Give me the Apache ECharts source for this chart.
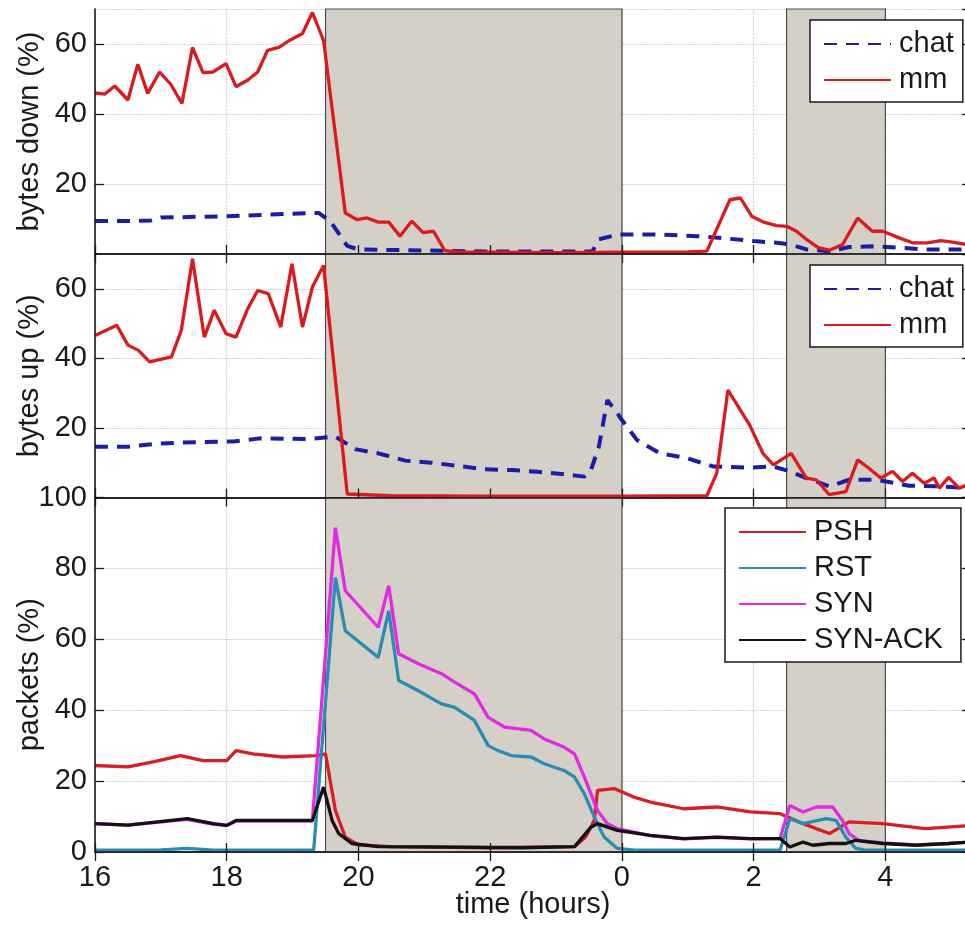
<!DOCTYPE html>
<html>
<head>
<meta charset="utf-8">
<script src="https://cdn.jsdelivr.net/npm/echarts@6/dist/echarts.min.js"></script>
<style>
  html, body { margin: 0; padding: 0; background: #ffffff; }
  #chart { width: 965px; height: 928px; }
</style>
</head>
<body>
<div id="chart"></div>
<script>
// Time is in hours from midnight of the first day; values above 24 fall on the next day.

// bytes down (%)
const chatDown = [
  [16.0, 9.4], [16.5, 9.4], [16.85, 9.6], [17.0, 10.4], [18.0, 10.8], [19.3, 11.7], [19.4, 11.7],
  [19.57, 9.4], [19.83, 2.3], [20.0, 1.3], [21.0, 1.0], [22.0, 0.7], [23.55, 0.7], [23.65, 4.2],
  [23.95, 5.6], [24.5, 5.6], [25.14, 5.1], [25.6, 4.4], [26.0, 3.7], [26.35, 3.2], [26.55, 2.8],
  [26.8, 1.3], [27.15, 0.8], [27.45, 2.0], [27.8, 2.2], [28.2, 1.8], [28.6, 1.3], [29.3, 1.3]
];
const mmDown = [
  [16.0, 46], [16.15, 45.7], [16.3, 48], [16.5, 44], [16.65, 54.2], [16.8, 45.9], [16.98, 52],
  [17.15, 48.5], [17.32, 43], [17.48, 59], [17.64, 51.8], [17.79, 52], [17.99, 54.4], [18.14, 47.8],
  [18.32, 49.7], [18.47, 52], [18.62, 58.2], [18.8, 59.1], [18.95, 61], [19.15, 63], [19.3, 69],
  [19.47, 61], [19.8, 11.7], [19.98, 9.8], [20.13, 10.3], [20.3, 9.1], [20.46, 9.1], [20.63, 5.1],
  [20.81, 9.4], [20.98, 6.1], [21.14, 6.5], [21.31, 1.0], [21.5, 0.5], [22.0, 0.5], [23.0, 0.4],
  [24.0, 0.5], [25.0, 0.6], [25.29, 0.8], [25.64, 15.5], [25.8, 16], [25.97, 10.8], [26.15, 9.1],
  [26.35, 8.1], [26.5, 7.9], [26.65, 6.5], [26.8, 4.2], [26.98, 1.8], [27.15, 1.1], [27.35, 2.7],
  [27.58, 10.3], [27.8, 6.5], [27.96, 6.5], [28.21, 4.6], [28.41, 3.2], [28.64, 3.2], [28.84, 3.8],
  [29.02, 3.4], [29.3, 2.5]
];

// bytes up (%)
const chatUp = [
  [16.0, 14.6], [16.5, 14.6], [16.9, 15.4], [17.3, 15.8], [18.1, 16.1], [18.5, 17], [19.25, 16.8],
  [19.65, 17.5], [19.95, 13.9], [20.3, 12.7], [20.71, 10.6], [21.11, 10], [21.51, 9.1], [21.92, 8.1],
  [22.32, 7.9], [22.72, 7.4], [23.12, 6.7], [23.43, 6], [23.53, 7.9], [23.65, 14.6], [23.78, 28],
  [23.93, 24.2], [23.98, 22.8], [24.23, 16.5], [24.58, 12.7], [24.99, 11.3], [25.39, 8.9],
  [25.94, 8.6], [26.3, 8.9], [26.55, 7.5], [26.8, 5.6], [27.15, 3.2], [27.45, 5.1], [27.86, 5.1],
  [28.36, 3.4], [28.77, 3.2], [29.3, 2.7]
];
const mmUp = [
  [16.0, 46.6], [16.33, 49.5], [16.5, 43.8], [16.66, 42.3], [16.83, 39], [17.16, 40.4], [17.31, 48],
  [17.48, 68.6], [17.66, 46.1], [17.81, 53.8], [17.99, 47.1], [18.14, 46.1], [18.32, 54.3],
  [18.47, 59.5], [18.63, 58.6], [18.82, 49], [18.99, 67.2], [19.15, 49], [19.3, 60.5], [19.47, 66.7],
  [19.83, 1.0], [20.5, 0.5], [22.0, 0.4], [24.0, 0.4], [25.29, 0.5], [25.44, 7], [25.61, 30.9],
  [25.94, 20.8], [26.14, 12.7], [26.3, 9.4], [26.57, 12.7], [26.8, 5.6], [26.95, 5.1], [27.15, 0.8],
  [27.4, 1.7], [27.58, 10.8], [27.75, 8.4], [27.93, 5.6], [28.11, 7.5], [28.26, 4.6], [28.41, 7],
  [28.59, 4.1], [28.74, 5.6], [28.82, 2.7], [28.96, 5.8], [29.12, 2.7], [29.3, 4]
];

// packets (%)
const psh = [
  [16.0, 24.4], [16.5, 24], [16.9, 25.5], [17.3, 27.2], [17.64, 25.8], [18.0, 25.8], [18.14, 28.6],
  [18.4, 27.7], [18.85, 26.8], [19.35, 27.2], [19.5, 27.7], [19.65, 11.7], [19.8, 4.2], [20.0, 2.0],
  [20.5, 1.5], [22.0, 1.2], [23.28, 1.5], [23.45, 4.2], [23.58, 8.9], [23.63, 17.4], [23.88, 17.9],
  [24.18, 15.5], [24.43, 14.1], [24.94, 12.2], [25.44, 12.7], [25.95, 11.3], [26.4, 10.8],
  [26.75, 8], [27.15, 5.2], [27.45, 8.5], [27.96, 8], [28.61, 6.6], [29.3, 7.5]
];
const rst = [
  [16.0, 0.5], [17.0, 0.6], [17.4, 1.0], [17.8, 0.5], [19.32, 0.5], [19.65, 77.4], [19.8, 62.4],
  [20.3, 54.9], [20.46, 68], [20.61, 48.4], [20.91, 45.5], [21.26, 41.8], [21.46, 40.8],
  [21.76, 37.1], [21.97, 30], [22.12, 28.6], [22.32, 27.2], [22.62, 26.8], [22.82, 24.9],
  [23.12, 23], [23.28, 21.1], [23.43, 16.4], [23.58, 9.9], [23.73, 4.2], [23.93, 1], [24.2, 0.5],
  [26.4, 0.5], [26.55, 9.4], [26.75, 8], [27.1, 9.4], [27.25, 8.9], [27.4, 4.2], [27.55, 1],
  [27.7, 0.5], [29.3, 0.5]
];
const syn = [
  [16.0, 8], [16.5, 7.6], [17.4, 9.2], [17.8, 7.8], [18.0, 7.5], [18.14, 8.7], [19.3, 8.7],
  [19.65, 91.5], [19.8, 73.7], [20.3, 63.4], [20.46, 75.1], [20.61, 55.9], [20.91, 53.1],
  [21.26, 50.3], [21.46, 47.9], [21.76, 44.6], [21.97, 38], [22.22, 35.2], [22.62, 34.3],
  [22.82, 31.9], [23.12, 29.6], [23.28, 27.7], [23.43, 21.1], [23.63, 11.7], [23.78, 8],
  [23.93, 6.6], [24.43, 4.6], [24.94, 3.7], [25.44, 4.1], [25.95, 3.7], [26.4, 3.8], [26.55, 13.1],
  [26.75, 11.3], [26.95, 12.7], [27.2, 12.7], [27.35, 8.9], [27.45, 5.2], [27.6, 3.2], [27.96, 2.6],
  [28.46, 2.0], [28.96, 2.4], [29.3, 2.8]
];
const synAck = [
  [16.0, 8], [16.5, 7.6], [17.4, 9.4], [17.8, 8], [18.0, 7.5], [18.14, 8.9], [18.85, 8.9],
  [19.3, 8.9], [19.47, 18.3], [19.6, 8.9], [19.7, 5.2], [19.9, 2.4], [20.3, 1.5], [21.5, 1.4],
  [22.5, 1.2], [23.28, 1.5], [23.53, 7], [23.63, 8], [23.93, 6.1], [24.43, 4.7], [24.94, 3.8],
  [25.44, 4.2], [25.95, 3.8], [26.4, 3.8], [26.55, 1.4], [26.75, 2.8], [26.9, 1.9], [27.15, 2.4],
  [27.4, 2.4], [27.55, 3.3], [27.96, 2.4], [28.46, 1.9], [28.96, 2.4], [29.3, 2.8]
];

// Shaded periods (start, end) in hours
const shadedPeriods = [[19.5, 24], [26.5, 28]];
const timeRange = [16, 29.3];
const timeStep = 2;

const FONT = 'Liberation Sans';
const INK = '#1a1a1a';
const COLORS = {
  chat: '#1c1ca6', mm: '#dc1a1e',
  PSH: '#d81e22', RST: '#2a8cb2', SYN: '#e22ae2', 'SYN-ACK': '#121212'
};

const panels = [
  { top: 9, height: 245, yMax: 70, yStep: 20, title: 'bytes down (%)', showMin: false, xLabels: false,
    series: [['chat', chatDown, true], ['mm', mmDown, false]],
    legend: { left: 810, top: 20, padRight: 9 } },
  { top: 254, height: 243.5, yMax: 70, yStep: 20, title: 'bytes up (%)', showMin: false, xLabels: false,
    series: [['chat', chatUp, true], ['mm', mmUp, false]],
    legend: { left: 810, top: 265, padRight: 9 } },
  { top: 497.5, height: 354.5, yMax: 100, yStep: 20, title: 'packets (%)', showMin: true, xLabels: true,
    series: [['PSH', psh, false], ['RST', rst, false], ['SYN', syn, false], ['SYN-ACK', synAck, false]],
    legend: { left: 725, top: 508, padRight: 18 } }
];

const grid = [], xAxis = [], yAxis = [], series = [], legend = [];
const tickStyle = { show: true, inside: true, length: 9, lineStyle: { color: INK, width: 1.3 } };
const frameLine = { show: true, lineStyle: { color: INK, width: 1.6 } };
const dotted = { show: true, lineStyle: { color: '#c4c4c4', type: 'dotted', width: 1.2 } };

panels.forEach((p, i) => {
  grid.push({ left: 95, right: -6, top: p.top, height: p.height, containLabel: false, outerBoundsMode: 'none' });

  // bottom axis: frame, ticks, hour labels (drawn above the shaded periods)
  xAxis.push({
    type: 'value', gridIndex: i, position: 'bottom', z: 5,
    min: timeRange[0], max: timeRange[1], interval: timeStep,
    axisLine: frameLine, axisTick: tickStyle, splitLine: { show: false },
    axisLabel: {
      show: p.xLabels, showMaxLabel: false, margin: 11,
      fontFamily: FONT, fontSize: 29, color: INK,
      formatter: v => String(v % 24)
    },
    name: p.xLabels ? 'time (hours)' : '', nameLocation: 'middle', nameGap: 38, nameMoveOverlap: false,
    nameTextStyle: { fontFamily: FONT, fontSize: 29, color: INK }
  });
  // top axis: vertical dotted grid lines, drawn beneath the shaded periods
  xAxis.push({
    type: 'value', gridIndex: i, position: 'top', z: 0,
    min: timeRange[0], max: timeRange[1], interval: timeStep,
    axisLine: frameLine, axisTick: tickStyle, axisLabel: { show: false },
    splitLine: dotted
  });
  // left axis: frame, ticks, value labels, title
  yAxis.push({
    type: 'value', gridIndex: i, position: 'left', z: 5,
    min: 0, max: p.yMax, interval: p.yStep,
    axisLine: frameLine, axisTick: tickStyle, splitLine: { show: false },
    axisLabel: {
      showMinLabel: p.showMin, showMaxLabel: p.yMax % p.yStep === 0, margin: 8,
      fontFamily: FONT, fontSize: 29, color: INK
    },
    name: p.title, nameLocation: 'middle', nameGap: 51, nameRotate: 90, nameMoveOverlap: false,
    nameTextStyle: { fontFamily: FONT, fontSize: 29, color: INK }
  });
  // right axis: horizontal dotted grid lines
  yAxis.push({
    type: 'value', gridIndex: i, position: 'right', z: 0,
    min: 0, max: p.yMax, interval: p.yStep,
    axisLine: frameLine, axisTick: tickStyle, axisLabel: { show: false },
    splitLine: dotted
  });

  // shaded periods
  series.push({
    type: 'line', xAxisIndex: 2 * i, yAxisIndex: 2 * i, z: 1, silent: true,
    data: [[timeRange[0], 0]], symbol: 'none', lineStyle: { opacity: 0 },
    markArea: {
      silent: true,
      itemStyle: { color: '#d4d0c8', borderColor: '#4a4a4a', borderWidth: 1.2 },
      data: shadedPeriods.map(([a, b]) => [{ xAxis: a }, { xAxis: b }])
    }
  });

  p.series.forEach(([name, data, dashed]) => {
    series.push({
      name, type: 'line', xAxisIndex: 2 * i, yAxisIndex: 2 * i, z: 3,
      data, symbol: 'none', showSymbol: false, animation: false,
      lineStyle: dashed
        ? { color: COLORS[name], width: 4, type: [13, 9] }
        : { color: COLORS[name], width: 3.3 },
      itemStyle: { color: COLORS[name] }
    });
  });

  legend.push({
    data: p.series.map(s => s[0]),
    left: p.legend.left, top: p.legend.top, orient: 'vertical',
    backgroundColor: '#ffffff', borderColor: INK, borderWidth: 1.5, borderRadius: 0,
    padding: [9, p.legend.padRight, 7, 13], itemGap: 6, itemWidth: 67, itemHeight: 14,
    selectedMode: false,
    itemStyle: { color: 'rgba(0,0,0,0)', borderColor: 'rgba(0,0,0,0)', borderWidth: 0, opacity: 0 },
    textStyle: { fontFamily: FONT, fontSize: 29, lineHeight: 30, color: INK, padding: [0, 0, 0, 3] }
  });
});

const chart = echarts.init(document.getElementById('chart'), null, { renderer: 'canvas' });
chart.setOption({
  animation: false,
  backgroundColor: '#ffffff',
  grid, xAxis, yAxis, series, legend
});
</script>
</body>
</html>
